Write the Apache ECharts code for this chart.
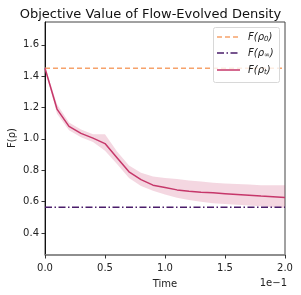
<!DOCTYPE html>
<html><head><meta charset="utf-8">
<script src="https://cdn.jsdelivr.net/npm/echarts@6/dist/echarts.min.js"></script>
<style>html,body{margin:0;padding:0;background:#fff}#c{width:301px;height:295px}</style>
</head><body><div id="c"></div>
<script>
var times = ['0.0','0.1','0.2','0.3','0.4','0.5','0.6','0.7','0.8','0.9','1.0','1.1','1.2','1.3','1.4','1.5','1.6','1.7','1.8','1.9','2.0'];
var meanF = [1.45,1.19,1.08,1.035,1.005,0.97,0.88,0.79,0.74,0.705,0.69,0.675,0.667,0.66,0.656,0.651,0.646,0.641,0.636,0.632,0.627];
var upperF = [1.46,1.22,1.105,1.06,1.03,1.03,0.92,0.83,0.785,0.76,0.75,0.745,0.735,0.728,0.72,0.715,0.712,0.71,0.705,0.705,0.705];
var lowerF = [1.44,1.16,1.055,1.01,0.98,0.925,0.84,0.75,0.70,0.67,0.645,0.625,0.61,0.60,0.59,0.585,0.58,0.575,0.57,0.565,0.56];
var F0 = 1.451;
var Finf = 0.564;
var yTicks = [0.4,0.6,0.8,1.0,1.2,1.4,1.6];
var xTickLabels = ['0.0','0.5','1.0','1.5','2.0'];
var legendNames = ['0','∞','t'];

var F0Line = times.map(function(){return F0;});
var FinfLine = times.map(function(){return Finf;});
var bandWidth = upperF.map(function(u,i){return +(u-lowerF[i]).toFixed(4);});

var cOrange = '#f6a26b', cPurple = '#4a1d6a', cRed = '#c6376a';
var font = 'DejaVu Sans';
var rich = {
  it:{fontFamily:font,fontStyle:'italic',fontSize:10,fill:'#222'},
  sub:{fontFamily:font,fontStyle:'italic',fontSize:7,fill:'#222',padding:[5,0,0,0]}
};
var dashes = [[5,3],[7,2.5,1.5,2.5],null];
var colors = [cOrange,cPurple,cRed];
var legendY = [37,53,70];
var legendG = [{type:'rect',shape:{x:213.5,y:27.5,width:66,height:55,r:2},
  style:{fill:'rgba(255,255,255,0.8)',stroke:'#d8d8d8',lineWidth:1},z:10}];
legendNames.forEach(function(s,i){
  legendG.push({type:'line',shape:{x1:217,y1:legendY[i],x2:240,y2:legendY[i]},
    style:{stroke:colors[i],lineWidth:1.5,lineDash:dashes[i]},z:11});
  legendG.push({type:'text',x:248,y:legendY[i],
    style:{text:'{it|F(ρ}{sub|'+s+'}{it|)}',rich:rich,verticalAlign:'middle',fill:'#222'},z:11});
});
legendG.push({type:'text',right:14,bottom:7,style:{text:'1e−1',fontFamily:font,fontSize:10,fill:'#222'}});
legendG.push({type:'text',x:12,y:138,rotation:Math.PI/2,
  style:{text:'F(ρ)',fontFamily:font,fontSize:10,fill:'#222',align:'center',verticalAlign:'middle'}});

var chart = echarts.init(document.getElementById('c'),null,{renderer:'canvas'});
chart.setOption({
  animation:false,
  backgroundColor:'#fff',
  title:{text:'Objective Value of Flow-Evolved Density',left:'center',top:3,
    textStyle:{fontFamily:font,fontSize:13,fontWeight:'normal',color:'#111'}},
  grid:{left:45,right:16,top:22,bottom:40,show:true,borderColor:'#444',borderWidth:1,
    outerBoundsMode:'none',containLabel:false},
  xAxis:{type:'category',data:times,boundaryGap:false,
    name:'Time',nameLocation:'middle',nameGap:24,
    nameTextStyle:{fontFamily:font,fontSize:10,color:'#222'},
    axisLine:{lineStyle:{color:'#888',width:1.5}},
    axisTick:{interval:4,length:3.5,lineStyle:{color:'#333'}},
    axisLabel:{interval:4,fontFamily:font,fontSize:10,color:'#222',margin:8,
      formatter:function(v){return xTickLabels.indexOf(v)>=0?v:'';}},
    splitLine:{show:false}},
  yAxis:{type:'value',min:0.26,max:1.745,
    axisLine:{show:true,lineStyle:{color:'#111',width:1}},
    axisTick:{show:true,length:3.5,customValues:yTicks,lineStyle:{color:'#333'}},
    axisLabel:{fontFamily:font,fontSize:10,color:'#222',margin:6,customValues:yTicks,
      formatter:function(v){return v.toFixed(1);}},
    splitLine:{show:false}},
  graphic:legendG,
  series:[
    {name:'bandLow',type:'line',data:lowerF,stack:'band',symbol:'none',lineStyle:{opacity:0},silent:true,z:1},
    {name:'bandWidth',type:'line',data:bandWidth,stack:'band',symbol:'none',lineStyle:{opacity:0},
      areaStyle:{color:cRed,opacity:0.2},silent:true,z:1},
    {name:'F0',type:'line',data:F0Line,symbol:'none',
      lineStyle:{color:cOrange,width:1.5,type:[5,3]},z:3},
    {name:'Finf',type:'line',data:FinfLine,symbol:'none',
      lineStyle:{color:cPurple,width:1.5,type:[7,2.5,1.5,2.5]},z:3},
    {name:'Ft',type:'line',data:meanF,symbol:'none',
      lineStyle:{color:cRed,width:1.5},z:4}
  ]
});
</script></body></html>
